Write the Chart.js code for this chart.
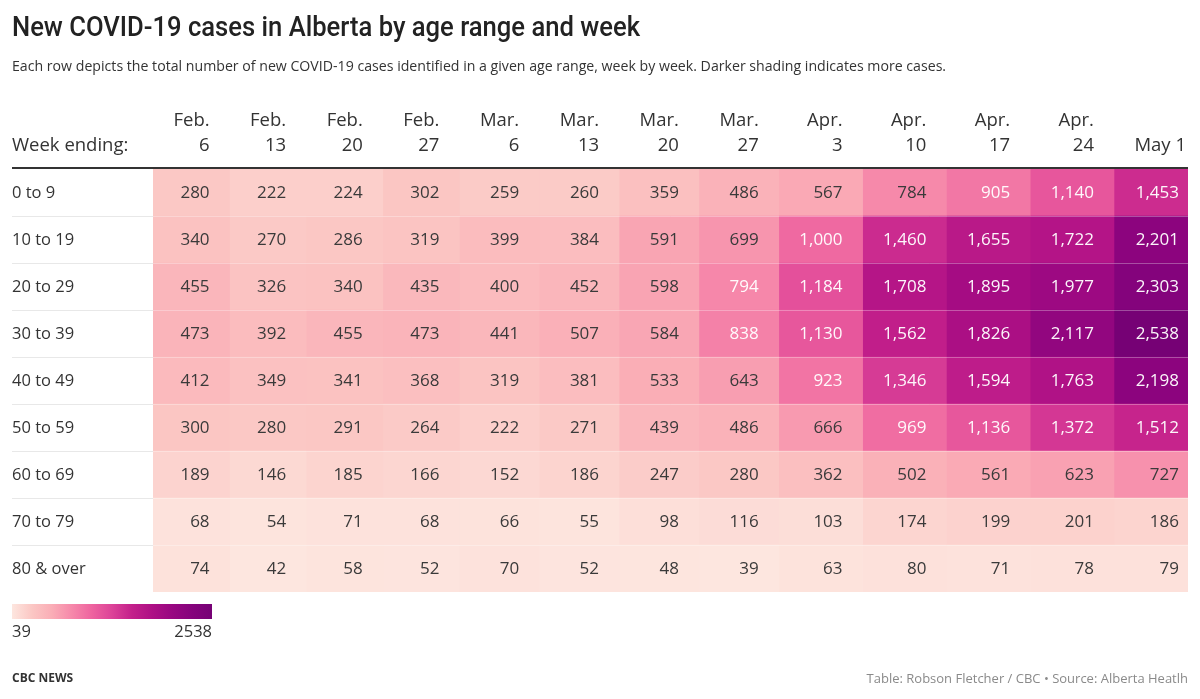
<!DOCTYPE html>
<html>
<head>
<meta charset="utf-8">
<script src="https://cdn.jsdelivr.net/npm/chart.js@4"></script>
<style>
  html, body { margin: 0; padding: 0; background: #fff; }
  #wrap { position: relative; width: 1200px; height: 699px; }
</style>
</head>
<body>
<div id="wrap"><canvas id="c" width="1200" height="699"></canvas></div>
<script>
// ---------------- DATA ----------------
const ageRanges = ['0 to 9', '10 to 19', '20 to 29', '30 to 39', '40 to 49', '50 to 59', '60 to 69', '70 to 79', '80 & over'];
const weekMonths = ['Feb.', 'Feb.', 'Feb.', 'Feb.', 'Mar.', 'Mar.', 'Mar.', 'Mar.', 'Apr.', 'Apr.', 'Apr.', 'Apr.', ''];
const weekDays   = ['6', '13', '20', '27', '6', '13', '20', '27', '3', '10', '17', '24', 'May 1'];

const cases0to9   = [280, 222, 224, 302, 259, 260, 359, 486, 567, 784, 905, 1140, 1453];
const cases10to19 = [340, 270, 286, 319, 399, 384, 591, 699, 1000, 1460, 1655, 1722, 2201];
const cases20to29 = [455, 326, 340, 435, 400, 452, 598, 794, 1184, 1708, 1895, 1977, 2303];
const cases30to39 = [473, 392, 455, 473, 441, 507, 584, 838, 1130, 1562, 1826, 2117, 2538];
const cases40to49 = [412, 349, 341, 368, 319, 381, 533, 643, 923, 1346, 1594, 1763, 2198];
const cases50to59 = [300, 280, 291, 264, 222, 271, 439, 486, 666, 969, 1136, 1372, 1512];
const cases60to69 = [189, 146, 185, 166, 152, 186, 247, 280, 362, 502, 561, 623, 727];
const cases70to79 = [68, 54, 71, 68, 66, 55, 98, 116, 103, 174, 199, 201, 186];
const cases80plus = [74, 42, 58, 52, 70, 52, 48, 39, 63, 80, 71, 78, 79];

const legendMin = 39;
const legendMax = 2538;

// ---------------- STYLE ----------------
const FONT = '"Open Sans", "Noto Sans", sans-serif';
const TITLE_FONT = 'Roboto, "Open Sans", sans-serif';
const colorStops = [
  [0.0, '#fde6df'], [0.1, '#fbc7c4'], [0.2, '#faadb6'], [0.3, '#f688aa'],
  [0.4, '#ee639f'], [0.5, '#dc4398'], [0.6, '#c3208b'], [0.7, '#ae1085'],
  [0.8, '#980781'], [0.9, '#85037c'], [1.0, '#760175']
];
function hex2rgb(h) { return [parseInt(h.slice(1,3),16), parseInt(h.slice(3,5),16), parseInt(h.slice(5,7),16)]; }
function colorAt(t) {
  t = Math.max(0, Math.min(1, t));
  for (let i = 0; i < colorStops.length - 1; i++) {
    const [t0, c0] = colorStops[i], [t1, c1] = colorStops[i+1];
    if (t <= t1) {
      const f = (t - t0) / (t1 - t0);
      const a = hex2rgb(c0), b = hex2rgb(c1);
      return 'rgb(' + a.map((v, k) => Math.round(v + (b[k] - v) * f)).join(',') + ')';
    }
  }
  return colorStops[colorStops.length-1][1];
}
function tOf(v) { return (v - legendMin) / (legendMax - legendMin); }
const fmt = v => v.toLocaleString('en-US');

const matrix = [cases0to9, cases10to19, cases20to29, cases30to39, cases40to49, cases50to59, cases60to69, cases70to79, cases80plus];

// column widths derived from text measurement (auto layout, like the original table)
const mctx = document.createElement('canvas').getContext('2d');
const HEAD_FONT = '18.5px ' + FONT;
const CELL_FONT = '17px ' + FONT;
const LABEL_FONT = '16.5px ' + FONT;
const PAD = 20, PAD_LAST = 9, HEAD_PAD_LAST = 2;
const colW = weekDays.map((d, j) => {
  const last = j === weekDays.length - 1;
  mctx.font = HEAD_FONT;
  let w = Math.max(mctx.measureText(weekMonths[j]).width, mctx.measureText(d).width) + (last ? HEAD_PAD_LAST : PAD);
  mctx.font = CELL_FONT;
  matrix.forEach(r => { w = Math.max(w, mctx.measureText(fmt(r[j])).width + (last ? PAD_LAST : PAD)); });
  return w + PAD;
});
const edges = [0];
colW.forEach(w => edges.push(edges[edges.length-1] + w));

const datasets = weekDays.map((d, j) => ({
  label: (weekMonths[j] + ' ' + d).trim(),
  data: ageRanges.map(() => [edges[j], edges[j+1]]),
  backgroundColor: ageRanges.map((a, i) => colorAt(tOf(matrix[i][j]))),
  borderWidth: 0,
  grouped: false,
  barPercentage: 1,
  categoryPercentage: 1
}));

// ---------------- DECORATION PLUGIN ----------------
const tablePlugin = {
  id: 'tablePlugin',
  afterDatasetsDraw(chart) {
    const ctx = chart.ctx;
    const area = chart.chartArea;
    const xs = chart.scales.x, ys = chart.scales.y;
    const L = 12, R = area.right;
    ctx.save();

    // title (fit to the original's width)
    ctx.fillStyle = '#222';
    ctx.textBaseline = 'alphabetic';
    ctx.textAlign = 'left';
    ctx.font = '500 27px ' + TITLE_FONT;
    const title = 'New COVID-19 cases in Alberta by age range and week';
    const tw = ctx.measureText(title).width;
    const sx = Math.min(1, 628 / tw);
    ctx.save();
    ctx.translate(L, 36);
    ctx.scale(sx, 1);
    ctx.fillText(title, 0, 0);
    ctx.restore();
    // subtitle
    ctx.fillStyle = '#333';
    ctx.font = '14.15px ' + FONT;
    ctx.fillText('Each row depicts the total number of new COVID-19 cases identified in a given age range, week by week. Darker shading indicates more cases.', L, 71);

    // header
    ctx.textBaseline = 'middle';
    ctx.font = HEAD_FONT;
    ctx.fillStyle = '#333';
    ctx.textAlign = 'left';
    ctx.fillText('Week ending:', L, 146);
    ctx.textAlign = 'right';
    weekDays.forEach((d, j) => {
      const pad = j === weekDays.length - 1 ? HEAD_PAD_LAST : PAD;
      const xr = xs.getPixelForValue(edges[j+1]) - pad;
      if (weekMonths[j]) ctx.fillText(weekMonths[j], xr, 121);
      ctx.fillText(d, xr, 146);
    });
    // thick header rule
    ctx.fillStyle = '#333';
    ctx.fillRect(L, area.top - 2, R - L, 2);

    // row labels + separators
    const rowH = ys.getPixelForValue(1) - ys.getPixelForValue(0);
    ageRanges.forEach((a, i) => {
      const yc = ys.getPixelForValue(i);
      ctx.fillStyle = '#333';
      ctx.textAlign = 'left';
      ctx.font = LABEL_FONT;
      ctx.fillText(a, L, yc + 1);
      if (i > 0) {
        const yb = Math.round(yc - rowH / 2) + 0.5;
        ctx.strokeStyle = '#e8e8e8';
        ctx.lineWidth = 1;
        ctx.beginPath(); ctx.moveTo(L, yb); ctx.lineTo(area.left, yb); ctx.stroke();
        ctx.strokeStyle = 'rgba(255,255,255,0.3)';
        ctx.beginPath(); ctx.moveTo(area.left, yb); ctx.lineTo(R, yb); ctx.stroke();
      }
    });

    // cell values
    ctx.font = CELL_FONT;
    ctx.textAlign = 'right';
    chart.data.datasets.forEach((ds, j) => {
      const meta = chart.getDatasetMeta(j);
      const pad = j === weekDays.length - 1 ? PAD_LAST : PAD;
      meta.data.forEach((el, i) => {
        const v = matrix[i][j];
        ctx.fillStyle = tOf(v) >= 0.3 ? 'rgba(255,255,255,0.96)' : '#3a3a3a';
        ctx.fillText(fmt(v), el.x - pad, el.y + 1);
      });
    });

    // legend gradient
    const gx0 = 12, gx1 = 212, gy = 604, gh = 15;
    const grad = ctx.createLinearGradient(gx0, 0, gx1, 0);
    colorStops.forEach(([t, c]) => grad.addColorStop(t, c));
    ctx.fillStyle = grad;
    ctx.fillRect(gx0, gy, gx1 - gx0, gh);
    ctx.fillStyle = '#333';
    ctx.font = '16.5px ' + FONT;
    ctx.textBaseline = 'middle';
    ctx.textAlign = 'left';
    ctx.fillText(String(legendMin), gx0, 632);
    ctx.textAlign = 'right';
    ctx.fillText(String(legendMax), gx1, 632);

    // footer
    ctx.textAlign = 'left';
    ctx.fillStyle = '#333';
    ctx.font = '700 12px ' + FONT;
    ctx.fillText('CBC NEWS', L, 679);
    ctx.textAlign = 'right';
    ctx.fillStyle = '#8a8a8a';
    ctx.font = '13px ' + FONT;
    ctx.fillText('Table: Robson Fletcher / CBC \u2022 Source: Alberta Heatlh', R, 679);

    ctx.restore();
  }
};

new Chart(document.getElementById('c'), {
  type: 'bar',
  data: { labels: ageRanges, datasets },
  options: {
    indexAxis: 'y',
    responsive: false,
    animation: false,
    layout: { padding: { left: 153, right: 12, top: 169, bottom: 107 } },
    plugins: { legend: { display: false }, tooltip: { enabled: false }, title: { display: false } },
    scales: {
      x: { type: 'linear', display: false, min: 0, max: edges[edges.length-1] },
      y: { type: 'category', display: false, offset: true }
    }
  },
  plugins: [tablePlugin]
});
</script>
</body>
</html>
